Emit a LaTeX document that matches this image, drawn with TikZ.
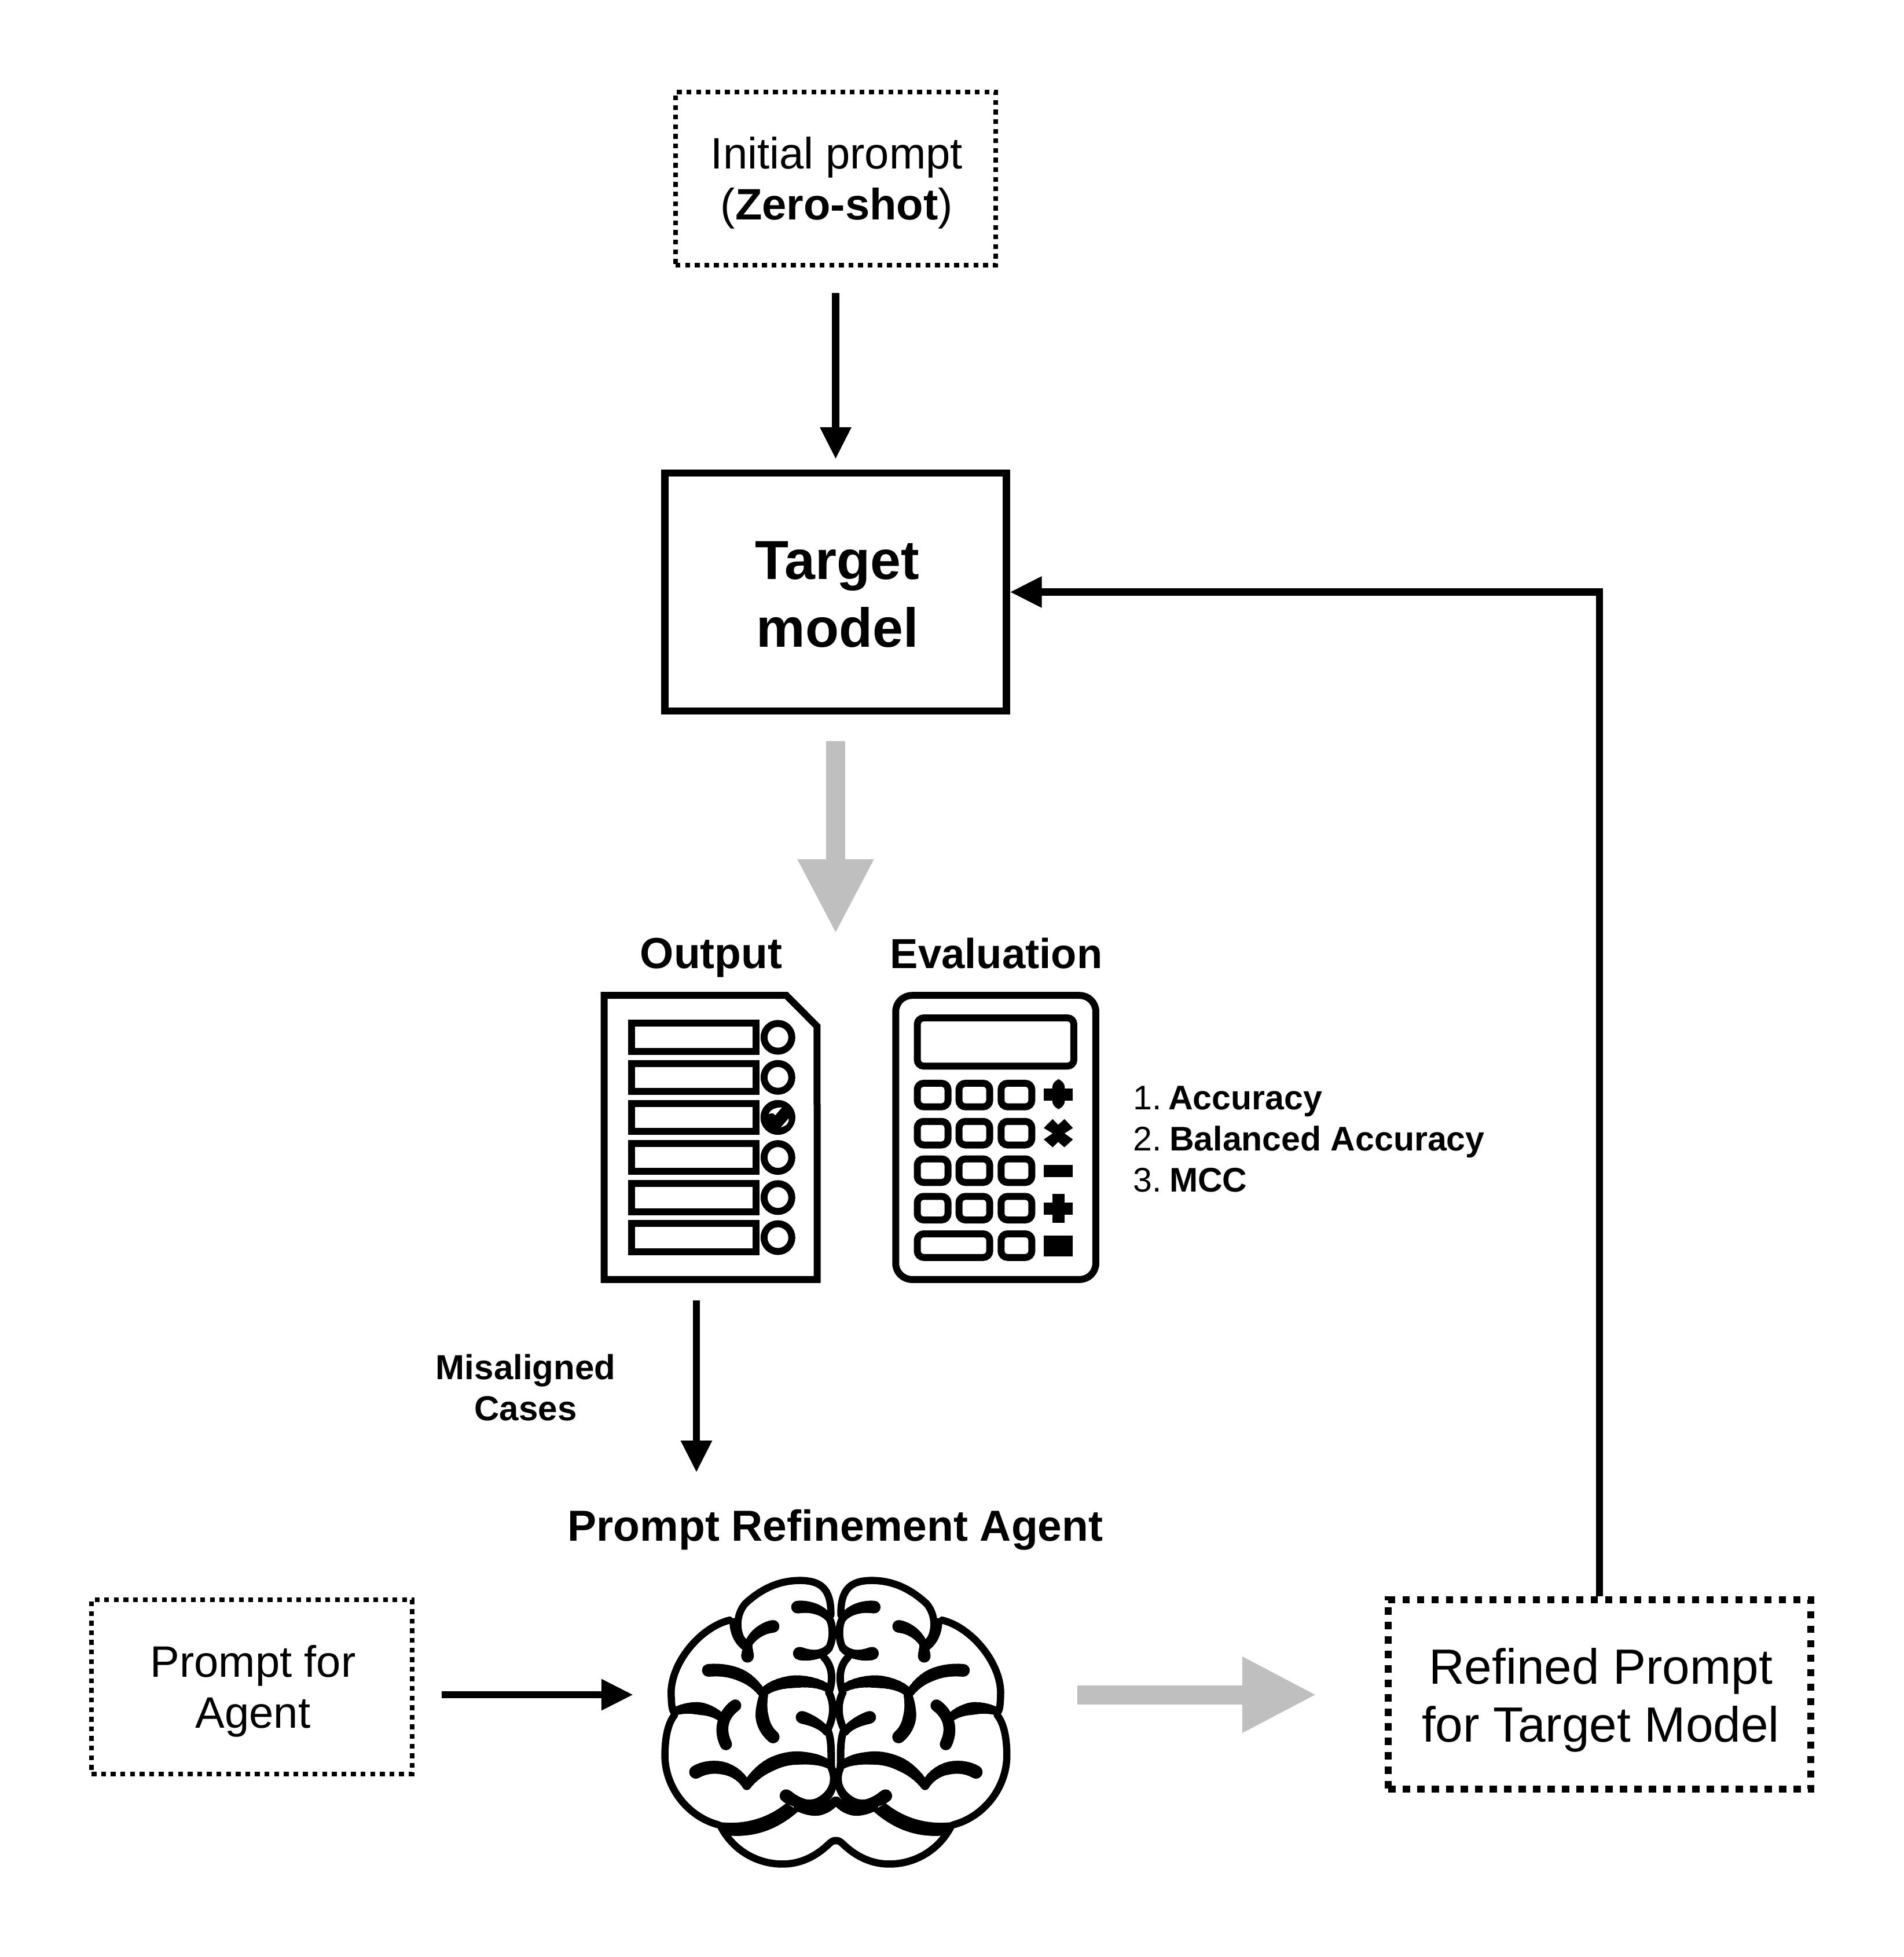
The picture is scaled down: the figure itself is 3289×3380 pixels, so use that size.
\documentclass[tikz,border=0pt]{standalone}
\usepackage{fontspec}
\setmainfont{Liberation Sans}
\usetikzlibrary{arrows.meta,calc}
\newcommand\hup[1]{\rule{0pt}{#1pt}}
\newcommand\nudge[1]{\hspace*{#1pt}}
\definecolor{arrowgray}{HTML}{BFBFBF}
\tikzset{
  thinbox/.style={draw=black,line width=8pt,dash pattern=on 8.3pt off 8.3pt,inner sep=0pt,align=center,font=\fontsize{76}{88}\selectfont},
  heavybox/.style={draw=black,line width=12.5pt,dash pattern=on 12.5pt off 12.5pt,inner sep=0pt,align=center,font=\fontsize{85.5}{100}\selectfont},
  modelbox/.style={draw=black,line width=12.3pt,inner sep=0pt,align=center,font=\fontsize{95}{117}\selectfont\bfseries},
  blackarrow/.style={draw=black,line width=12.5pt,-{Triangle[length=55pt,width=51pt]}},
  grayarrow/.style={draw=arrowgray,line width=33pt,-{Triangle[length=129pt,width=122pt]}},
  title/.style={inner sep=0pt,anchor=base,font=\fontsize{75}{88}\selectfont\bfseries},
  iconzone/.style={inner sep=0pt,draw=none},
  ink/.style={draw=black,line width=12pt},
  keycap/.style={ink,rounded corners=11pt},
  br/.style={draw=black,line cap=round,line join=round},
}
% variable-width cubic stroke: \sulc{w0}{wmid}{w1}(p0)(c1)(c2)(p1)
\def\sulcw#1#2#3{\def\wa{#1}\def\wb{#2}\def\wc{#3}}
\def\sulc#1(#2,#3)(#4,#5)(#6,#7)(#8,#9){%
  \sulcw#1%
  \foreach \i in {1,...,14}{%
    \pgfmathsetmacro\ta{(\i-1)/14}%
    \pgfmathsetmacro\tb{\i/14}%
    \pgfmathsetmacro\tm{(\ta+\tb)/2}%
    \pgfmathsetmacro\xa{(1-\ta)^3*#2+3*(1-\ta)^2*\ta*#4+3*(1-\ta)*\ta^2*#6+\ta^3*#8}%
    \pgfmathsetmacro\ya{(1-\ta)^3*#3+3*(1-\ta)^2*\ta*#5+3*(1-\ta)*\ta^2*#7+\ta^3*#9}%
    \pgfmathsetmacro\xb{(1-\tb)^3*#2+3*(1-\tb)^2*\tb*#4+3*(1-\tb)*\tb^2*#6+\tb^3*#8}%
    \pgfmathsetmacro\yb{(1-\tb)^3*#3+3*(1-\tb)^2*\tb*#5+3*(1-\tb)*\tb^2*#7+\tb^3*#9}%
    \pgfmathsetmacro\wd{\tm<0.5 ? \wa+(\wb-\wa)*2*\tm : \wb+(\wc-\wb)*(2*\tm-1)}%
    \draw[br,line width=\wd pt] (\xa,\ya) -- (\xb,\yb);
  }%
}
\newcommand\brainhalf{%
  \draw[br,line width=12.5pt] (432,395) .. controls (395,345) and (390,255) .. (432,195) .. controls (490,130) and (560,83) .. (650,83) .. controls (730,83) and (775,120) .. (773,250);
  \draw[br,line width=18pt] (390,290) .. controls (392,330) and (405,370) .. (430,395);
  \sulc{{22}{18}{13}}(543,305)(500,312)(458,350)(443,395)
  \sulc{{14}{18}{22}}(443,395)(442,415)(441,430)(441,450)
  \sulc{{22}{18}{13}}(640,212)(690,205)(740,225)(765,265)
  \sulc{{13}{13}{13}}(765,265)(782,290)(785,370)(765,410)
  \sulc{{14}{16}{23}}(765,410)(740,445)(690,450)(648,436)
  \draw[br,line width=13pt] (745,455) .. controls (782,500) and (782,570) .. (765,625) .. controls (785,670) and (788,740) .. (760,805) .. controls (780,860) and (772,950) .. (775,985);
  \draw[br,line width=12.5pt] (370,275) .. controls (250,310) and (130,490) .. (137,640) .. controls (138,680) and (140,720) .. (152,722);
  \sulc{{22}{21}{13}}(285,518)(380,508)(460,550)(505,640)
  \sulc{{15}{22}{13}}(505,625)(550,565)(700,550)(768,610)
  \sulc{{15}{23}{22}}(505,640)(490,720)(495,790)(543,840)
  \sulc{{22}{17}{13}}(658,745)(700,760)(740,785)(755,815)
  \sulc{{14}{22}{14}}(155,715)(210,690)(290,695)(340,750)
  \sulc{{21}{20}{21}}(392,688)(345,730)(325,800)(355,875)
  \draw[br,line width=12.5pt] (150,735) .. controls (120,780) and (112,860) .. (112,930) .. controls (112,1080) and (200,1225) .. (325,1265);
  \draw[br,line width=12.5pt] (335,1275) .. controls (385,1390) and (480,1455) .. (580,1455) .. controls (660,1455) and (720,1410) .. (765,1358) .. controls (780,1340) and (790,1340) .. (793,1342);
  \fill[black] (300,1245) .. controls (350,1260) and (480,1275) .. (595,1160) -- (645,1198) .. controls (560,1290) and (470,1325) .. (375,1318) -- (335,1285) -- cycle;
  \sulc{{23}{22}{15}}(235,1010)(290,970)(390,975)(438,1075)
  \sulc{{15}{23}{23}}(438,1075)(490,985)(570,942)(640,942)
  \sulc{{23}{19}{13}}(640,942)(690,942)(740,950)(772,980)
  \sulc{{23}{16}{17}}(595,1125)(640,1165)(700,1180)(735,1150)
  \sulc{{17}{13}{13}}(735,1150)(785,1110)(795,1040)(775,990)
  \sulc{{13}{19}{15}}(640,1180)(690,1205)(750,1205)(790,1150)
}
\begin{document}
\begin{tikzpicture}[x=1pt,y=-1pt]
\useasboundingbox (0,0) rectangle (3289,3380);
\fill[white] (0,0) rectangle (3289,3380);

% boxes
\node[thinbox,minimum width=553pt,minimum height=299pt] (init) at (1443.5,308.5) {\hup{69}\nudge{4}Initial prompt\\\nudge{4}(\textbf{Zero-shot})};
\node[modelbox,minimum width=590pt,minimum height=411pt] (target) at (1443.5,1022.5) {\hup{73}\nudge{6}Target\\\nudge{6}model};
\node[thinbox,minimum width=553.5pt,minimum height=301pt] (agentprompt) at (435,2913.5) {\hup{69}\nudge{4}Prompt for\\\nudge{4}Agent};
\node[heavybox,minimum width=730pt,minimum height=327pt] (refined) at (2763,2926.5) {\hup{81}\nudge{4}Refined Prompt\\\nudge{4}for Target Model};

% titles and labels
\node[title] (outtitle) at (1228.5,1672) {Output};
\node[title,font=\fontsize{72.5}{88}\selectfont\bfseries] (evaltitle) at (1721,1672) {Evaluation};
\node[title] (agenttitle) at (1443,2661) {Prompt Refinement Agent};
\node[inner sep=0pt,align=center,font=\fontsize{60}{71}\selectfont\bfseries] (mislabel) at (908,2397) {Misaligned\\Cases};
\node[inner sep=0pt,anchor=west,align=left,font=\fontsize{59}{71}\selectfont] (metrics) at (1957,1967)
  {\makebox[61pt][l]{1.}\textbf{Accuracy}\\\makebox[63pt][l]{2.}\textbf{Balanced Accuracy}\\\makebox[63pt][l]{3.}\textbf{MCC}};

% icon and brain anchors
\node[iconzone,minimum width=380pt,minimum height=503pt] (outputicon) at (1228,1964.5) {};
\node[iconzone,minimum width=358pt,minimum height=503pt] (calcicon) at (1720,1964.5) {};
\node[iconzone,minimum width=602pt,minimum height=503pt] (brain) at (1443,2975) {};
\coordinate (flow) at (1443,2927);
\coordinate (misend) at (1203,2543);
\coordinate (grayend) at (1443.5,1613);

% connectors
\draw[blackarrow,shorten <=44pt,shorten >=18pt] (init.south) -- (target.north);
\draw[grayarrow,shorten <=46pt] (target.south) -- (grayend);
\draw[blackarrow,shorten <=30pt] (outputicon.south -| misend) -- (misend);
\draw[blackarrow,shorten <=47.5pt,shorten >=48pt] (agentprompt.east |- flow) -- (brain.west |- flow);
\draw[grayarrow,shorten <=117pt,shorten >=117pt] (brain.east |- flow) -- (refined.west |- flow);
\draw[blackarrow,line join=miter] (refined.north) |- (target.east);

% document icon
\begin{scope}[shift={(1000pt,-1680pt)},x=0.6378pt,y=-0.37pt]
  \draw[ink,line join=miter] (68.5,106) -- (562,106) -- (645,250) -- (645.5,1432) -- (68.5,1432) -- cycle;
  \foreach \r in {220,407,594,781,968,1155}{
    \draw[ink] (142.5,\r+16) rectangle (480.5,\r+147);
    \draw[ink] (539,\r+81.5) circle[radius=24pt];
  }
  \fill[black] (539,675.5) circle[radius=30pt];
  \fill[white] (514,660) .. controls (518,640) and (530,630) .. (550,628) -- (532,665) .. controls (528,656) and (522,652) .. (514,660) -- cycle;
  \fill[white] (547,722) -- (568,680) .. controls (570,700) and (562,715) .. (547,722) -- cycle;

  % calculator icon
  \draw[ink,rounded corners=28pt] (858,106) rectangle (1400,1432);
  \draw[ink,rounded corners=11pt] (916.5,211) rectangle (1340.5,436);
  \foreach \r in {500,678,853,1028}{
    \foreach \c in {907,1020,1134}{
      \draw[keycap] (\c+9.4,\r+16) rectangle (\c+92.6,\r+126);
    }
  }
  \draw[keycap] (916.5,1219) rectangle (1112.6,1329);
  \draw[keycap] (1143.4,1219) rectangle (1226.6,1329);
  % divide-like plus
  \fill[black] (1259,540) rectangle (1338,598);
  \fill[black,rounded corners=15pt] (1282,497) rectangle (1316,637);
  % times
  \fill[black] (1283,683) -- (1298,710) -- (1315,683) -- (1338,725) -- (1315,750) -- (1338,778) -- (1315,815) -- (1298,790) -- (1283,815) -- (1259,778) -- (1283,750) -- (1259,725) -- cycle;
  % minus
  \fill[black] (1259,897) rectangle (1338,953);
  % plus
  \fill[black] (1259,1072) rectangle (1338,1130);
  \fill[black] (1282,1033) rectangle (1316,1167);
  % square
  \fill[black] (1259,1226) rectangle (1338,1323);
\end{scope}

% brain
\begin{scope}[shift={(1100pt,-2700pt)},x=0.4337pt,y=-0.357pt]
  \brainhalf
\end{scope}
\begin{scope}[shift={(1787.8pt,-2700pt)},x=-0.4337pt,y=-0.357pt]
  \brainhalf
\end{scope}
\end{tikzpicture}
\end{document}
